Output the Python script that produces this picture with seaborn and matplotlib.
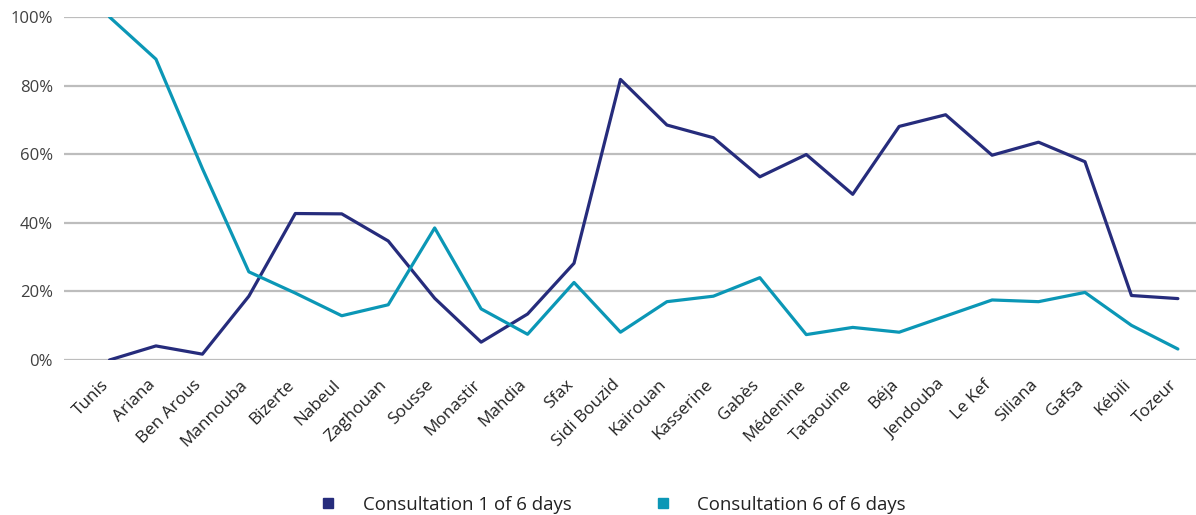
import matplotlib
matplotlib.use("Agg")
import matplotlib.pyplot as plt
from matplotlib.lines import Line2D
import matplotlib.transforms as mtransforms
import seaborn as sns
import pandas as pd

# Governorates along the x axis
governorates = [
    "Tunis", "Ariana", "Ben Arous", "Mannouba", "Bizerte", "Nabeul",
    "Zaghouan", "Sousse", "Monastir", "Mahdia", "Sfax", "Sidi Bouzid",
    "Kairouan", "Kasserine", "Gabès", "Médenine", "Tataouine", "Béja",
    "Jendouba", "Le Kef", "Siliana", "Gafsa", "Kébili", "Tozeur",
]

# Share of respondents (%) for each consultation day
consult_day1 = [0.0, 4.1, 1.7, 18.6, 42.7, 42.6, 34.7, 18.0, 5.2, 13.4, 28.2, 81.8,
                68.5, 64.8, 53.4, 59.9, 48.3, 68.1, 71.5, 59.7, 63.5, 57.8, 18.8, 17.9]
consult_day6 = [100.0, 87.7, 55.8, 25.7, 19.5, 12.9, 16.1, 38.5, 14.9, 7.5, 22.6, 8.1,
                17.0, 18.6, 24.0, 7.4, 9.5, 8.1, 12.8, 17.5, 17.0, 19.7, 10.1, 3.2]

series_names = ["Consultation 1 of 6 days", "Consultation 6 of 6 days"]
series_colors = ["#262C7C", "#0B97B6"]
y_ticks = [0, 20, 40, 60, 80, 100]

sns.set_style("white")
plt.rcParams["font.family"] = ["Open Sans", "DejaVu Sans"]

df = pd.DataFrame({
    "Governorate": governorates * 2,
    "pos": list(range(len(governorates))) * 2,
    "value": consult_day1 + consult_day6,
    "series": [series_names[0]] * len(governorates) + [series_names[1]] * len(governorates),
})

fig = plt.figure(figsize=(11.96, 5.15), dpi=100)
ax = fig.add_axes([0.0535, 0.301, 0.9465, 0.666])

sns.lineplot(data=df, x="pos", y="value", hue="series", palette=series_colors,
             linewidth=2.3, ax=ax, legend=False, sort=False)

ax.set_ylim(0, 100)
ax.set_xlim(-0.98, 23.39)
ax.set_yticks(y_ticks)
ax.set_yticklabels([f"{t}%" for t in y_ticks], fontsize=12, color="#404040")
ax.set_xticks(range(len(governorates)))
ax.set_xticklabels(governorates, rotation=45, ha="right", va="top",
                   rotation_mode="anchor", fontsize=12.3, color="#222222")
ax.tick_params(axis="both", length=0)
ax.tick_params(axis="x", pad=12)
ax.tick_params(axis="y", pad=8)
ax.set_xlabel("")
ax.set_ylabel("")

# nudge rotated category labels a little to the left of their ticks
shift = mtransforms.ScaledTranslation(-9 / 100, 0, fig.dpi_scale_trans)
for lbl in ax.get_xticklabels():
    lbl.set_transform(lbl.get_transform() + shift)

ax.yaxis.grid(True, color="#BDBDBD", linewidth=1.6)
ax.xaxis.grid(False)
ax.set_axisbelow(True)
for s in ax.spines.values():
    s.set_visible(False)

handles = [Line2D([], [], marker="s", linestyle="none", markersize=7.5,
                  color=c) for c in series_colors]
fig.legend(handles, series_names, loc="lower center", bbox_to_anchor=(0.508, -0.03),
           ncol=2, frameon=False, fontsize=13.4, handletextpad=0.85,
           columnspacing=3.9, labelcolor="#222222")

fig.savefig("out.png", dpi=100, facecolor="white")
